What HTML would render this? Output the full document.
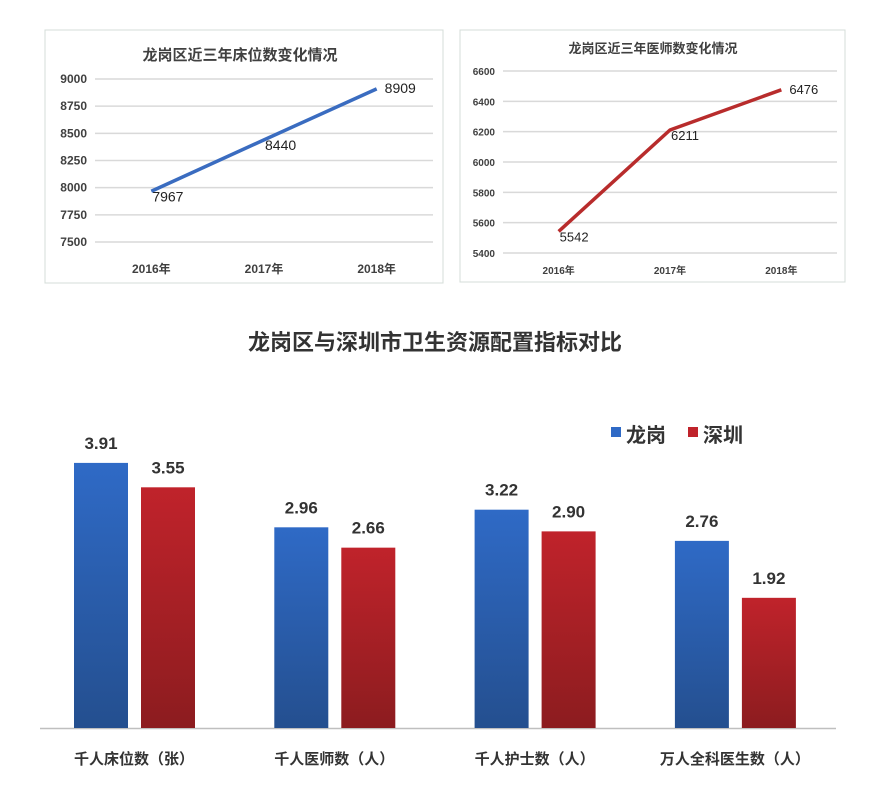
<!DOCTYPE html>
<html><head><meta charset="utf-8"><style>
body{margin:0;background:#fff;}
svg text{font-family:"Liberation Sans","Noto Sans CJK SC",sans-serif;}
</style></head><body>
<svg width="891" height="788" viewBox="0 0 891 788" xmlns="http://www.w3.org/2000/svg">
<defs>
<linearGradient id="gb" x1="0" y1="0" x2="0" y2="1"><stop offset="0" stop-color="#2f6ac6"/><stop offset="1" stop-color="#244f8f"/></linearGradient>
<linearGradient id="gr" x1="0" y1="0" x2="0" y2="1"><stop offset="0" stop-color="#c0232b"/><stop offset="1" stop-color="#8c1c1f"/></linearGradient>
</defs>
<rect x="45" y="30" width="398" height="253" fill="#fff" stroke="#d4ddd8"/>
<text x="240" y="60" text-anchor="middle" font-size="15" font-weight="bold" fill="#404040">龙岗区近三年床位数变化情况</text>
<g id="c1"></g>
<rect x="460" y="30" width="385" height="252" fill="#fff" stroke="#d4ddd8"/>
<text x="653" y="53" text-anchor="middle" font-size="13" font-weight="bold" fill="#404040">龙岗区近三年医师数变化情况</text>
<g id="c2"></g>
<text x="435" y="350" text-anchor="middle" font-size="22" font-weight="bold" fill="#333">龙岗区与深圳市卫生资源配置指标对比</text>
<rect x="611" y="427" width="10" height="10" fill="#2f6ac6"/>
<text x="626" y="442" font-size="20" font-weight="bold" fill="#333">龙岗</text>
<rect x="688" y="427" width="10" height="10" fill="#c0232b"/>
<text x="703" y="442" font-size="20" font-weight="bold" fill="#333">深圳</text>
<g id="c3"></g>
</svg>
<script>
const years = ["2016年","2017年","2018年"];
const beds = [7967, 8440, 8909];
const bedTicks = [7500, 7750, 8000, 8250, 8500, 8750, 9000];
const doctors = [5542, 6211, 6476];
const doctorTicks = [5400, 5600, 5800, 6000, 6200, 6400, 6600];
const barCategories = ["千人床位数（张）","千人医师数（人）","千人护士数（人）","万人全科医生数（人）"];
const longgang = [3.91, 2.96, 3.22, 2.76];
const shenzhen = [3.55, 2.66, 2.90, 1.92];
const NS = "http://www.w3.org/2000/svg";
function mk(parent, tag, attrs, text){
  const e = document.createElementNS(NS, tag);
  for (const k in attrs) e.setAttribute(k, attrs[k]);
  if (text !== undefined) e.textContent = text;
  parent.appendChild(e); return e;
}
function lineChart(g, ticks, vals, o){
  const lo = ticks[0], hi = ticks[ticks.length-1];
  const y = v => o.yb - (v-lo)/(hi-lo)*(o.yb-o.yt);
  const x = i => o.x0 + (i+0.5)*(o.x1-o.x0)/years.length;
  ticks.forEach(t=>{
    const l = mk(g,"line",{x1:o.x0,x2:o.x1,y1:y(t),y2:y(t),stroke:"#d9d9d9","stroke-width":1.5});
    
    
    const tx = mk(g,"text",{x:o.x0-8,y:y(t)+4,"text-anchor":"end","font-size":o.fs,"font-weight":"bold",fill:"#404040"}, String(t));
    
    
  });
  years.forEach((yr,i)=>{
    const tx = mk(g,"text",{x:x(i),y:o.xl,"text-anchor":"middle","font-size":o.fs,"font-weight":"bold",fill:"#404040"}, yr);
    
    
  });
  const p = mk(g,"polyline",{points:vals.map((v,i)=>x(i)+","+y(v)).join(" "),fill:"none",stroke:o.color,"stroke-width":3.5});
  
  
  vals.forEach((v,i)=>{
    const dy = i===vals.length-1 ? 4 : 10;
    const dx = i===vals.length-1 ? 8 : 1;
    const tx = mk(g,"text",{x:x(i)+dx,y:y(v)+dy,"font-size":o.vfs,fill:"#222"}, String(v));
    
    
  });
}
lineChart(document.getElementById("c1"), bedTicks, beds, {x0:95,x1:433,yt:79,yb:242,xl:273,fs:12,vfs:14,color:"#3a6cc0"});
lineChart(document.getElementById("c2"), doctorTicks, doctors, {x0:503,x1:837,yt:71,yb:253,xl:274,fs:10,vfs:13,color:"#b82c2c"});
(function(){
  const g = document.getElementById("c3");
  const base = 728, scale = 67.8, bw = 54;
  const bx = i => 74 + i*200.3;
  const ax = mk(g,"line",{x1:40,x2:836,y1:base+0.5,y2:base+0.5,stroke:"#bfbfbf","stroke-width":1.5});
  
  
  barCategories.forEach((c,i)=>{
    [[longgang,"url(#gb)",0,"bar-longgang"],[shenzhen,"url(#gr)",67,"bar-shenzhen"]].forEach(s=>{
      const v = s[0][i], h = v*scale, x = bx(i)+s[2];
      const r = mk(g,"rect",{x:x,y:base-h,width:bw,height:h,fill:s[1]});
      
      
      const t = mk(g,"text",{x:x+bw/2,y:base-h-14,"text-anchor":"middle","font-size":17,"font-weight":"bold",fill:"#333"}, v.toFixed(2));
      
      
    });
    const t = mk(g,"text",{x:bx(i)+60,y:764,"text-anchor":"middle","font-size":15,"font-weight":"bold",fill:"#333"}, c);
    
    
  });
})();
</script>
</body></html>
